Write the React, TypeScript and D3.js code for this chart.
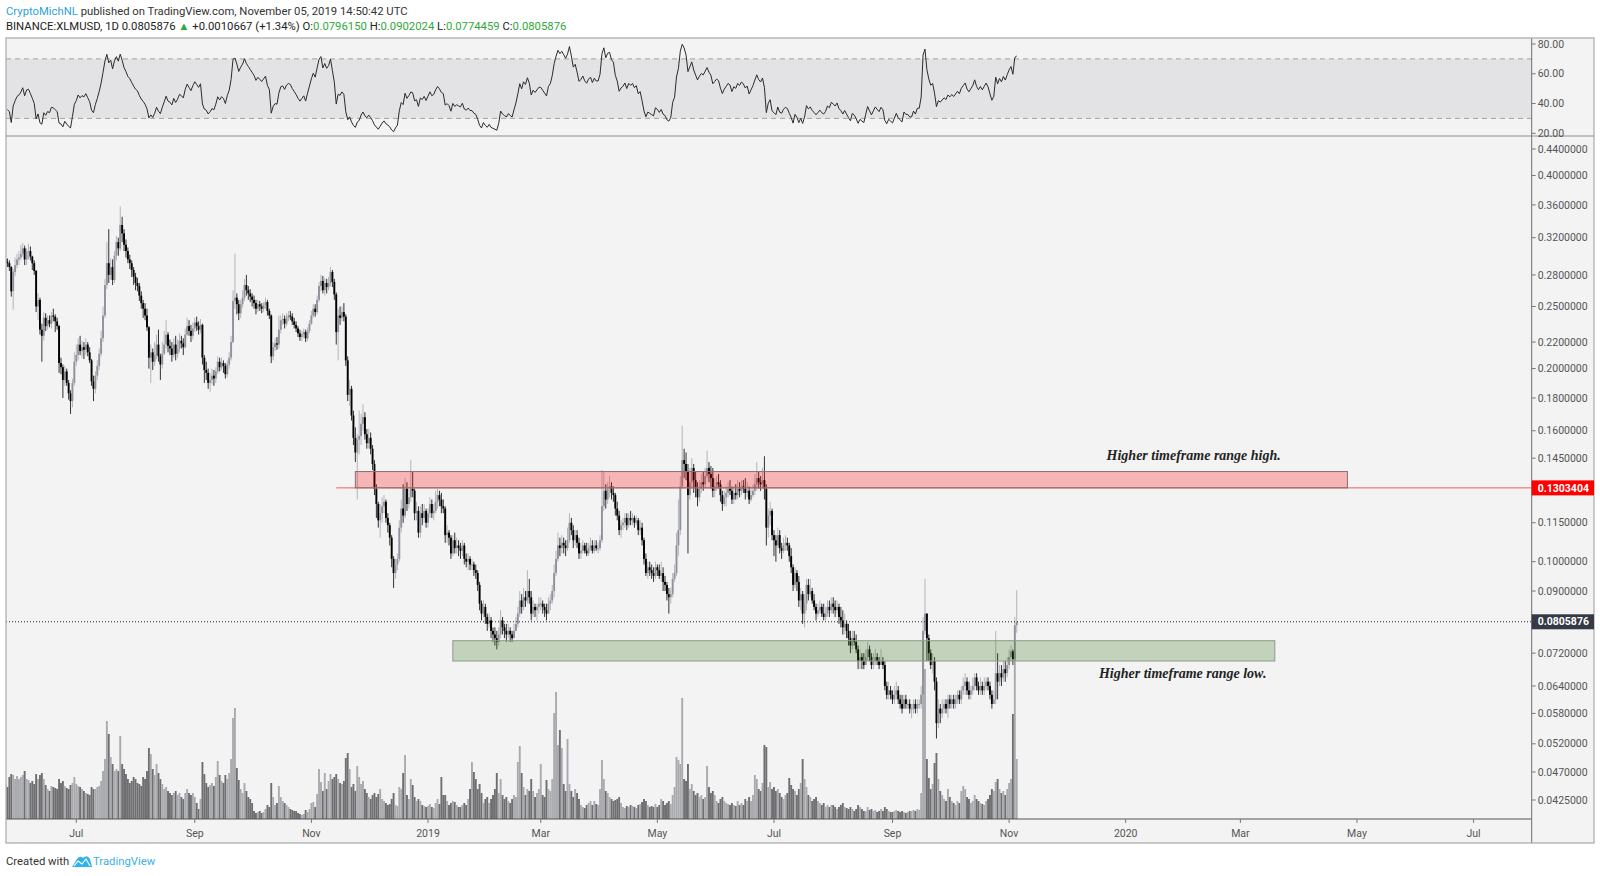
import { useEffect, useRef } from "react";
import * as d3 from "d3";

// rows: [close, high, low, volume] — prices in 1/10000 USD, volume in relative units
const may2018 = [
  [3200, 3300, 3120, 38], [3260, 3300, 3150, 34], [3180, 3290, 3140, 36], [3240, 3280, 3150, 35], [3120, 3250, 3080, 38],
  [3150, 3200, 3060, 34], [3220, 3260, 3120, 33], [3180, 3250, 3150, 30], [3260, 3300, 3160, 34], [3200, 3290, 3170, 32],
  [3080, 3210, 3050, 38], [2900, 3090, 2850, 46], [2960, 3000, 2860, 40], [2930, 3000, 2890, 34], [2920, 2970, 2880, 32],
  [2880, 2950, 2840, 42], [2640, 2890, 2590, 45], [2830, 2860, 2470, 44], [2900, 2980, 2790, 40], [2960, 3020, 2870, 43],
];
const jun2018 = [
  [2980, 3050, 2900, 40], [3020, 3120, 2950, 42], [3080, 3140, 2990, 44], [2960, 3110, 2900, 48], [3040, 3080, 2900, 40],
  [3050, 3130, 2960, 39], [2990, 3100, 2950, 36], [2920, 3000, 2850, 38], [2840, 2950, 2800, 35], [2500, 2850, 2450, 45],
  [2560, 2620, 2380, 40], [2300, 2580, 2260, 44], [2250, 2350, 2050, 46], [2400, 2450, 2210, 40], [2330, 2440, 2290, 34],
  [2380, 2420, 2300, 30], [2350, 2420, 2320, 28], [2420, 2450, 2310, 33], [2410, 2480, 2370, 32], [2370, 2430, 2280, 31],
  [2330, 2400, 2300, 30], [2040, 2340, 1970, 40], [2010, 2080, 1960, 36], [1920, 2030, 1800, 38], [1980, 2020, 1880, 33],
  [1900, 2000, 1880, 31], [1830, 1920, 1790, 30], [1780, 1850, 1700, 34], [1900, 1930, 1740, 36], [2050, 2120, 1880, 42],
];
const jul2018 = [
  [2100, 2180, 2020, 35], [2180, 2230, 2060, 33], [2130, 2250, 2100, 32], [2160, 2210, 2080, 30], [2140, 2200, 2070, 28],
  [2180, 2230, 2100, 26], [2120, 2200, 2090, 25], [2060, 2160, 2040, 24], [1910, 2070, 1880, 32], [1860, 1950, 1780, 30],
  [1950, 1980, 1830, 30], [2020, 2060, 1920, 32], [2110, 2150, 1990, 33], [2230, 2290, 2090, 38], [2420, 2500, 2200, 48],
  [2700, 2760, 2400, 60], [2920, 3150, 2660, 98], [2800, 3300, 2720, 85], [2880, 2970, 2750, 62], [2750, 2960, 2700, 55],
  [3000, 3050, 2720, 48], [3150, 3220, 2950, 50], [3080, 3200, 3000, 48], [3350, 3580, 3050, 83], [3250, 3450, 3150, 55],
  [3120, 3300, 3050, 50], [3050, 3180, 2980, 45], [2960, 3090, 2920, 40], [2920, 3010, 2860, 36], [2850, 2950, 2780, 38],
  [2780, 2880, 2700, 42],
];
const aug2018 = [
  [2720, 2820, 2650, 40], [2690, 2770, 2640, 36], [2600, 2720, 2550, 35], [2530, 2640, 2480, 33], [2480, 2560, 2400, 42],
  [2420, 2530, 2380, 40], [2320, 2480, 2290, 48], [2080, 2330, 2000, 71], [2120, 2180, 1900, 65], [2050, 2150, 1990, 50],
  [2100, 2200, 2020, 44], [2180, 2260, 2070, 55], [2090, 2300, 2050, 46], [2030, 2110, 1920, 40], [2110, 2200, 2000, 35],
  [2180, 2290, 2100, 30], [2260, 2380, 2150, 32], [2170, 2280, 2120, 28], [2150, 2220, 2100, 26], [2100, 2200, 2050, 24],
  [2180, 2230, 2080, 26], [2110, 2250, 2060, 28], [2150, 2220, 2080, 24], [2210, 2270, 2120, 26], [2190, 2250, 2150, 22],
  [2160, 2230, 2100, 20], [2260, 2310, 2150, 26], [2330, 2400, 2250, 30], [2290, 2380, 2250, 26], [2250, 2340, 2200, 24],
  [2310, 2360, 2220, 26],
];
const sep2018 = [
  [2360, 2400, 2280, 22], [2330, 2410, 2290, 16], [2300, 2370, 2260, 10], [2340, 2390, 2270, 20], [2080, 2350, 2030, 57],
  [1990, 2100, 1900, 45], [1970, 2050, 1920, 36], [1900, 2000, 1860, 32], [1920, 1970, 1840, 34], [1950, 2000, 1890, 36],
  [1930, 1990, 1880, 33], [1980, 2010, 1900, 42], [2050, 2090, 1960, 58], [2010, 2080, 1980, 44], [2040, 2080, 1990, 38],
  [2020, 2060, 1970, 36], [1960, 2040, 1930, 44], [2030, 2060, 1940, 40], [2080, 2120, 2000, 46], [2200, 2250, 2060, 60],
  [2550, 2650, 2190, 101], [2580, 3020, 2480, 111], [2520, 2620, 2430, 51], [2440, 2560, 2380, 39], [2520, 2560, 2400, 30],
  [2580, 2650, 2490, 26], [2700, 2760, 2550, 36], [2650, 2800, 2600, 28], [2620, 2690, 2560, 22], [2590, 2660, 2540, 20],
];
const oct2018 = [
  [2560, 2620, 2500, 16], [2530, 2600, 2480, 8], [2480, 2560, 2430, 6], [2520, 2560, 2450, 7], [2500, 2550, 2460, 8],
  [2480, 2530, 2440, 6], [2510, 2540, 2450, 7], [2540, 2580, 2480, 10], [2460, 2560, 2420, 14], [2420, 2480, 2390, 12],
  [2090, 2430, 2040, 36], [2160, 2200, 2060, 22], [2190, 2230, 2130, 14], [2180, 2240, 2140, 16], [2300, 2420, 2150, 33],
  [2380, 2420, 2270, 22], [2390, 2440, 2340, 18], [2350, 2420, 2310, 16], [2400, 2440, 2330, 14], [2420, 2460, 2370, 12],
  [2410, 2460, 2380, 10], [2370, 2440, 2340, 9], [2340, 2400, 2310, 8], [2310, 2370, 2280, 8], [2270, 2330, 2240, 6],
  [2240, 2300, 2210, 5], [2260, 2290, 2210, 4], [2280, 2310, 2230, 5], [2230, 2300, 2200, 9], [2290, 2320, 2210, 7],
  [2350, 2380, 2270, 10],
];
const nov2018 = [
  [2420, 2460, 2340, 16], [2480, 2520, 2400, 17], [2450, 2520, 2410, 12], [2560, 2600, 2430, 25], [2690, 2730, 2540, 50],
  [2740, 2800, 2640, 37], [2650, 2790, 2620, 28], [2720, 2770, 2600, 46], [2680, 2760, 2620, 30], [2720, 2780, 2650, 38],
  [2830, 2880, 2690, 45], [2730, 2850, 2680, 40], [2610, 2760, 2560, 42], [2280, 2630, 2180, 45], [2420, 2480, 2060, 40],
  [2400, 2500, 2340, 36], [2450, 2500, 2370, 35], [2410, 2530, 2370, 38], [2060, 2430, 2020, 61], [1820, 2090, 1780, 66],
  [1860, 1920, 1750, 50], [1690, 1880, 1660, 32], [1560, 1720, 1520, 35], [1480, 1620, 1430, 28], [1550, 1580, 1250, 53],
  [1570, 1720, 1470, 42], [1640, 1700, 1520, 35], [1680, 1760, 1600, 38], [1580, 1710, 1550, 30], [1530, 1610, 1500, 26],
];
const dec2018 = [
  [1560, 1610, 1500, 22], [1500, 1590, 1470, 20], [1420, 1520, 1390, 24], [1300, 1440, 1270, 26], [1230, 1320, 1170, 22],
  [1160, 1240, 1130, 25], [1190, 1230, 1090, 30], [1220, 1260, 1150, 20], [1240, 1270, 1190, 18], [1170, 1250, 1150, 16],
  [1140, 1190, 1110, 14], [1090, 1150, 1060, 15], [1010, 1100, 980, 20], [960, 1020, 910, 26], [990, 1010, 940, 14],
  [1010, 1030, 970, 13], [1130, 1160, 1000, 32], [1210, 1250, 1110, 30], [1180, 1320, 1150, 46], [1300, 1350, 1170, 64],
  [1230, 1330, 1200, 24], [1260, 1300, 1210, 20], [1300, 1440, 1240, 40], [1290, 1380, 1260, 34], [1190, 1300, 1160, 22],
  [1200, 1240, 1160, 18], [1110, 1220, 1090, 20], [1190, 1220, 1090, 18], [1170, 1230, 1140, 14], [1200, 1230, 1150, 13],
  [1150, 1210, 1130, 12],
];
const jan2019 = [
  [1190, 1210, 1130, 13], [1230, 1260, 1170, 15], [1190, 1250, 1170, 12], [1200, 1230, 1160, 11], [1240, 1290, 1190, 16],
  [1270, 1300, 1210, 20], [1250, 1290, 1220, 15], [1220, 1280, 1190, 42], [1210, 1250, 1190, 24], [1100, 1220, 1070, 24],
  [1110, 1140, 1070, 18], [1090, 1120, 1060, 14], [1030, 1100, 1010, 16], [1080, 1100, 1020, 18], [1050, 1110, 1030, 17],
  [1060, 1090, 1030, 14], [1050, 1080, 1020, 12], [1040, 1070, 1010, 12], [1060, 1080, 1020, 14], [1010, 1070, 990, 16],
  [1000, 1030, 980, 14], [1010, 1030, 970, 20], [990, 1020, 970, 30], [990, 1010, 970, 57], [970, 1000, 950, 47],
  [960, 990, 940, 40], [920, 970, 900, 30], [860, 930, 840, 35], [830, 870, 810, 26], [850, 870, 820, 16],
  [820, 860, 800, 20],
];
const feb2019 = [
  [800, 830, 780, 22], [810, 830, 790, 16], [780, 820, 760, 20], [770, 790, 750, 24], [760, 790, 740, 30],
  [750, 780, 730, 46], [770, 790, 740, 26], [810, 840, 760, 40], [790, 820, 770, 24], [780, 800, 760, 20],
  [770, 800, 750, 22], [780, 800, 760, 18], [770, 790, 750, 16], [760, 780, 750, 20], [780, 800, 760, 24],
  [800, 820, 780, 22], [830, 850, 790, 57], [870, 900, 820, 73], [850, 890, 830, 46], [880, 910, 840, 32],
  [870, 900, 850, 24], [900, 970, 860, 30], [880, 940, 860, 28], [830, 900, 810, 40], [850, 870, 820, 28],
  [840, 860, 820, 22], [850, 860, 810, 26], [860, 880, 830, 30],
];
const mar2019 = [
  [860, 880, 840, 55], [850, 870, 830, 24], [840, 860, 820, 22], [830, 860, 810, 39], [860, 880, 830, 30],
  [870, 890, 840, 28], [900, 920, 860, 40], [960, 990, 880, 106], [1010, 1040, 950, 127], [1060, 1110, 1000, 74],
  [1050, 1090, 1020, 89], [1070, 1100, 1030, 71], [1060, 1090, 1030, 35], [1050, 1080, 1020, 28], [1080, 1130, 1040, 80],
  [1150, 1190, 1070, 35], [1120, 1170, 1100, 28], [1080, 1140, 1050, 22], [1100, 1120, 1060, 30], [1070, 1120, 1050, 26],
  [1030, 1090, 1010, 20], [1040, 1070, 1010, 14], [1060, 1080, 1030, 12], [1040, 1070, 1030, 11], [1030, 1070, 1020, 14],
  [1050, 1070, 1020, 16], [1060, 1090, 1040, 18], [1040, 1080, 1030, 14], [1060, 1080, 1030, 18], [1050, 1080, 1040, 15],
  [1050, 1070, 1030, 14],
];
const apr2019 = [
  [1080, 1100, 1040, 30], [1220, 1390, 1070, 59], [1290, 1380, 1200, 40], [1250, 1320, 1210, 28], [1300, 1330, 1230, 26],
  [1310, 1360, 1260, 22], [1280, 1330, 1250, 20], [1270, 1310, 1240, 18], [1210, 1280, 1180, 19], [1180, 1240, 1160, 20],
  [1120, 1200, 1100, 22], [1140, 1160, 1090, 16], [1150, 1170, 1120, 12], [1170, 1190, 1130, 11], [1140, 1190, 1120, 13],
  [1170, 1190, 1130, 12], [1160, 1200, 1140, 14], [1170, 1190, 1140, 13], [1150, 1180, 1130, 12], [1160, 1180, 1140, 11],
  [1120, 1170, 1100, 14], [1130, 1160, 1100, 15], [1080, 1150, 1060, 17], [1010, 1090, 990, 20], [960, 1030, 950, 18],
  [980, 1000, 940, 14], [970, 1000, 950, 12], [960, 990, 940, 13], [950, 980, 930, 12], [980, 1000, 940, 15],
];
const may2019 = [
  [970, 990, 950, 12], [950, 990, 940, 14], [960, 1000, 930, 20], [930, 980, 900, 18], [920, 950, 900, 14],
  [890, 930, 870, 16], [880, 910, 830, 18], [890, 910, 860, 15], [940, 960, 880, 24], [960, 990, 930, 32],
  [1060, 1110, 950, 62], [1120, 1250, 1020, 59], [1310, 1360, 1100, 55], [1440, 1630, 1300, 121], [1420, 1500, 1350, 40],
  [1380, 1480, 1340, 38], [1270, 1420, 1030, 55], [1330, 1400, 1250, 30], [1400, 1450, 1300, 35], [1340, 1420, 1280, 28],
  [1300, 1380, 1260, 24], [1260, 1330, 1220, 26], [1300, 1340, 1240, 22], [1330, 1370, 1280, 24], [1320, 1380, 1290, 20],
  [1360, 1400, 1300, 22], [1400, 1490, 1350, 53], [1370, 1430, 1330, 32], [1350, 1410, 1300, 26], [1290, 1400, 1260, 28],
  [1310, 1350, 1260, 24],
];
const jun2019 = [
  [1330, 1360, 1290, 18], [1320, 1370, 1300, 16], [1270, 1340, 1240, 20], [1230, 1290, 1200, 22], [1260, 1290, 1220, 18],
  [1280, 1310, 1220, 16], [1300, 1330, 1260, 15], [1290, 1340, 1270, 14], [1250, 1310, 1230, 16], [1280, 1310, 1230, 14],
  [1270, 1320, 1250, 13], [1300, 1340, 1250, 18], [1290, 1330, 1260, 14], [1310, 1340, 1270, 16], [1300, 1340, 1280, 14],
  [1280, 1350, 1250, 20], [1290, 1330, 1260, 18], [1250, 1310, 1230, 22], [1270, 1300, 1240, 18], [1290, 1320, 1260, 24],
  [1320, 1370, 1270, 44], [1350, 1430, 1290, 40], [1330, 1380, 1300, 30], [1320, 1360, 1290, 28], [1340, 1400, 1300, 36],
  [1300, 1460, 1250, 74], [1130, 1320, 1060, 72], [1180, 1210, 1090, 32], [1200, 1240, 1140, 37], [1100, 1210, 1080, 30],
];
const jul2019 = [
  [1080, 1120, 1020, 32], [1060, 1100, 1000, 28], [1100, 1130, 1050, 30], [1050, 1120, 1030, 26], [1040, 1070, 1010, 22],
  [1060, 1090, 1030, 20], [1070, 1100, 1040, 24], [1060, 1090, 1040, 26], [1020, 1070, 1000, 41], [980, 1050, 960, 34],
  [920, 990, 900, 30], [960, 980, 910, 28], [930, 970, 900, 24], [870, 950, 850, 30], [890, 910, 840, 36],
  [830, 900, 800, 60], [860, 890, 790, 40], [920, 940, 840, 32], [890, 940, 870, 24], [900, 940, 880, 22],
  [870, 910, 860, 18], [850, 890, 840, 20], [830, 860, 810, 22], [840, 860, 820, 18], [850, 870, 830, 16],
  [830, 860, 820, 14], [820, 860, 810, 16], [830, 850, 810, 12], [850, 870, 820, 14], [840, 870, 820, 12],
  [860, 880, 830, 14],
];
const aug2019 = [
  [850, 880, 830, 14], [840, 870, 820, 12], [850, 870, 830, 10], [820, 860, 800, 12], [810, 850, 790, 14],
  [790, 840, 770, 16], [800, 830, 770, 12], [780, 810, 760, 11], [760, 800, 740, 10], [740, 780, 720, 12],
  [760, 780, 730, 10], [750, 780, 740, 8], [730, 770, 720, 10], [700, 740, 680, 14], [710, 730, 680, 12],
  [700, 720, 680, 10], [690, 720, 680, 8], [710, 730, 690, 8], [730, 750, 700, 12], [710, 740, 700, 9],
  [690, 720, 680, 10], [700, 720, 680, 8], [710, 730, 690, 9], [700, 720, 690, 7], [690, 710, 680, 8],
  [700, 730, 690, 10], [690, 710, 680, 8], [640, 700, 630, 12], [620, 650, 610, 10], [630, 650, 610, 8],
  [620, 640, 610, 7],
];
const sep2019 = [
  [610, 630, 600, 7], [620, 640, 600, 8], [630, 650, 610, 9], [610, 640, 600, 8], [600, 620, 590, 7],
  [590, 620, 580, 8], [610, 620, 590, 7], [600, 620, 590, 6], [600, 610, 590, 7], [590, 610, 580, 8],
  [590, 600, 570, 8], [600, 610, 580, 9], [590, 610, 580, 8], [600, 610, 580, 10], [600, 610, 590, 9],
  [620, 640, 590, 26], [780, 820, 610, 160], [830, 940, 770, 150], [760, 830, 700, 60], [720, 770, 700, 41],
  [690, 730, 680, 30], [700, 720, 670, 35], [650, 710, 630, 56], [560, 660, 530, 66], [590, 610, 550, 40],
  [580, 600, 560, 28], [590, 610, 570, 24], [600, 610, 580, 20], [590, 610, 580, 18], [610, 620, 570, 30],
];
const oct2019 = [
  [600, 620, 590, 22], [610, 620, 590, 18], [600, 620, 590, 16], [610, 620, 590, 14], [620, 630, 600, 18],
  [610, 630, 600, 16], [630, 640, 600, 28], [640, 660, 620, 33], [650, 670, 620, 30], [630, 660, 620, 22],
  [620, 650, 610, 20], [630, 640, 610, 16], [640, 660, 620, 18], [660, 670, 630, 24], [640, 670, 630, 20],
  [630, 650, 620, 18], [640, 660, 620, 16], [630, 650, 620, 15], [640, 660, 620, 14], [650, 660, 630, 18],
  [640, 660, 630, 20], [620, 650, 610, 24], [600, 630, 590, 30], [610, 630, 600, 28], [670, 780, 600, 37],
  [650, 720, 610, 40], [670, 690, 640, 30], [660, 690, 640, 26], [680, 700, 650, 28], [670, 700, 650, 24],
  [690, 710, 660, 30],
];
const nov2019 = [
  [710, 730, 680, 36], [725, 740, 700, 40], [705, 730, 690, 105], [796.15, 820, 700, 168], [805.876, 902.024, 774.459, 60],
];

const months = [
  { start: "2018-05-12", rows: may2018 }, { start: "2018-06-01", rows: jun2018 },
  { start: "2018-07-01", rows: jul2018 }, { start: "2018-08-01", rows: aug2018 },
  { start: "2018-09-01", rows: sep2018 }, { start: "2018-10-01", rows: oct2018 },
  { start: "2018-11-01", rows: nov2018 }, { start: "2018-12-01", rows: dec2018 },
  { start: "2019-01-01", rows: jan2019 }, { start: "2019-02-01", rows: feb2019 },
  { start: "2019-03-01", rows: mar2019 }, { start: "2019-04-01", rows: apr2019 },
  { start: "2019-05-01", rows: may2019 }, { start: "2019-06-01", rows: jun2019 },
  { start: "2019-07-01", rows: jul2019 }, { start: "2019-08-01", rows: aug2019 },
  { start: "2019-09-01", rows: sep2019 }, { start: "2019-10-01", rows: oct2019 },
  { start: "2019-11-01", rows: nov2019 },
];

const priceTicks = [0.44, 0.4, 0.36, 0.32, 0.28, 0.25, 0.22, 0.2, 0.18, 0.16, 0.145, 0.115, 0.1, 0.09, 0.072, 0.064, 0.058, 0.052, 0.047, 0.0425];
const rsiTicks = [80, 60, 40, 20];
const rsiBand = [70, 30];
const timeTicks = [
  "2018-07-01", "2018-09-01", "2018-11-01", "2019-01-01", "2019-03-01", "2019-05-01", "2019-07-01",
  "2019-09-01", "2019-11-01", "2020-01-01", "2020-03-01", "2020-05-01", "2020-07-01",
];

const lastPrice = 0.0805876;
const levelLine = { price: 0.1303404, from: "2018-11-14" };
const rangeHigh = { top: 0.1382, bottom: 0.1303404, from: "2018-11-24", to: "2020-04-26" };
const rangeLow = { top: 0.0753, bottom: 0.07, from: "2019-01-14", to: "2020-03-19" };
const notes = [
  { text: "Higher timeframe range high.", date: "2019-12-22", price: 0.1443 },
  { text: "Higher timeframe range low.", date: "2019-12-18", price: 0.06595 },
];

const DAY = 864e5;
const utc = (s: string) => new Date(s + "T00:00:00Z");

type Bar = { date: Date; open: number; high: number; low: number; close: number; volume: number };

function buildBars(): Bar[] {
  const bars: Bar[] = [];
  let prev: number | null = null;
  months.forEach(({ start, rows }) => {
    const t = utc(start).getTime();
    rows.forEach((r, i) => {
      const close = r[0] / 1e4;
      const open = prev === null ? close : prev;
      bars.push({ date: new Date(t + i * DAY), open, high: r[1] / 1e4, low: r[2] / 1e4, close, volume: r[3] });
      prev = close;
    });
  });
  return bars;
}

// Wilder RSI(14)
function rsi(bars: Bar[], n = 14) {
  const out: { date: Date; value: number }[] = [];
  let g = 0, l = 0;
  for (let i = 1; i < bars.length; i++) {
    const ch = bars[i].close - bars[i - 1].close;
    const up = Math.max(ch, 0), dn = Math.max(-ch, 0);
    if (i <= n) {
      g += up / n;
      l += dn / n;
    } else {
      g = (g * (n - 1) + up) / n;
      l = (l * (n - 1) + dn) / n;
    }
    if (i >= n) out.push({ date: bars[i].date, value: l === 0 ? 100 : 100 - 100 / (1 + g / l) });
  }
  return out;
}

export default function App() {
  const svgRef = useRef<SVGSVGElement>(null);

  useEffect(() => {
    if (!svgRef.current) return;
    const svg = d3.select(svgRef.current);
    svg.selectAll("*").remove();

    const L = 6, PR = 1531.7, R = 1594, T = 38, RB = 136, PB = 819, B = 843;
    const axisFont = "Roboto, 'Liberation Sans', sans-serif";
    const t0 = utc("2019-01-01").getTime();

    const x = d3.scaleUtc()
      .domain([new Date(t0 - 220.76 * DAY), new Date(t0 + 577.4 * DAY)])
      .range([L, PR]);
    const y = d3.scaleLog().domain([0.44, 0.0425]).range([149, 800]);
    const yRsi = d3.scaleLinear().domain([80, 20]).range([44, 133.3]);
    const yVol = d3.scaleLinear().domain([0, 100]).range([PB, PB - 100]);

    const bars = buildBars();
    const rsiData = rsi(bars);

    svg.append("rect").attr("width", 1600).attr("height", 876).attr("fill", "#fff");
    svg.append("rect").attr("x", L).attr("y", T).attr("width", R - L).attr("height", B - T).attr("fill", "#f3f3f3");

    const defs = svg.append("defs");
    defs.append("clipPath").attr("id", "clipPrice")
      .append("rect").attr("x", L).attr("y", RB).attr("width", PR - L).attr("height", PB - RB);
    defs.append("clipPath").attr("id", "clipRsi")
      .append("rect").attr("x", L).attr("y", T).attr("width", PR - L).attr("height", RB - T);

    // header
    const head = svg.append("g").attr("font-family", axisFont).attr("font-size", 11.3);
    const h1 = head.append("text").attr("x", L).attr("y", 15);
    h1.append("tspan").attr("fill", "#2f9fe0").text("CryptoMichNL");
    h1.append("tspan").attr("fill", "#333").text(" published on TradingView.com, November 05, 2019 14:50:42 UTC");
    const h2 = head.append("text").attr("x", L).attr("y", 30).attr("fill", "#222");
    const green = "#2fa83a";
    const parts: [string, string][] = [
      ["BINANCE:XLMUSD, 1D 0.0805876 ", "#222"], ["▲", green], [" +0.0010667 (+1.34%) O:", "#222"], ["0.0796150", green],
      [" H:", "#222"], ["0.0902024", green], [" L:", "#222"], ["0.0774459", green], [" C:", "#222"], ["0.0805876", green],
    ];
    parts.forEach(([s, c]) => h2.append("tspan").attr("fill", c).text(s));

    // RSI pane
    svg.append("rect")
      .attr("x", L).attr("width", PR - L)
      .attr("y", yRsi(rsiBand[0])).attr("height", yRsi(rsiBand[1]) - yRsi(rsiBand[0]))
      .attr("fill", "#e3e3e6");
    rsiBand.forEach((v) => {
      svg.append("line").attr("x1", L).attr("x2", PR).attr("y1", yRsi(v)).attr("y2", yRsi(v))
        .attr("stroke", "#a3a3a3").attr("stroke-dasharray", "5,4");
    });
    svg.append("path")
      .datum(rsiData)
      .attr("clip-path", "url(#clipRsi)")
      .attr("d", d3.line<{ date: Date; value: number }>().x((d) => x(d.date)).y((d) => yRsi(d.value)))
      .attr("fill", "none").attr("stroke", "#2b2b2b").attr("stroke-width", 1);

    // volume
    const price = svg.append("g").attr("clip-path", "url(#clipPrice)");
    price.append("g").selectAll("rect").data(bars).join("rect")
      .attr("x", (d) => x(d.date) - 0.95).attr("width", 1.9)
      .attr("y", (d) => yVol(d.volume)).attr("height", (d) => PB - yVol(d.volume))
      .attr("fill", (d) => (d.close >= d.open ? "#a9aaae" : "#6f6f72"));

    // candles
    const cg = price.append("g");
    cg.selectAll("rect.wick").data(bars).join("rect").attr("class", "wick")
      .attr("x", (d) => x(d.date) - 0.5).attr("width", 1)
      .attr("y", (d) => y(Math.max(d.high, d.open, d.close)))
      .attr("height", (d) => y(Math.min(d.low, d.open, d.close)) - y(Math.max(d.high, d.open, d.close)))
      .attr("fill", (d) => (d.close >= d.open ? "#b3b5bc" : "#333"));
    cg.selectAll("rect.body").data(bars).join("rect").attr("class", "body")
      .attr("x", (d) => x(d.date) - 0.95).attr("width", 1.9)
      .attr("y", (d) => y(Math.max(d.open, d.close)))
      .attr("height", (d) => Math.max(1, y(Math.min(d.open, d.close)) - y(Math.max(d.open, d.close))))
      .attr("fill", (d) => (d.close >= d.open ? "#8f929b" : "#000"));

    // zones and levels
    const zones = svg.append("g").attr("clip-path", "url(#clipPrice)");
    zones.append("line")
      .attr("x1", x(utc(levelLine.from))).attr("x2", PR)
      .attr("y1", y(levelLine.price)).attr("y2", y(levelLine.price))
      .attr("stroke", "#f45b5b").attr("stroke-width", 1);
    [
      { z: rangeHigh, fill: "rgba(255,0,0,0.25)", stroke: "#86706f" },
      { z: rangeLow, fill: "rgba(50,115,20,0.25)", stroke: "#8c9c87" },
    ].forEach(({ z, fill, stroke }) => {
      zones.append("rect")
        .attr("x", x(utc(z.from))).attr("width", x(utc(z.to)) - x(utc(z.from)))
        .attr("y", y(z.top)).attr("height", y(z.bottom) - y(z.top))
        .attr("fill", fill).attr("stroke", stroke).attr("stroke-width", 1);
    });
    zones.append("line")
      .attr("x1", L).attr("x2", PR).attr("y1", y(lastPrice)).attr("y2", y(lastPrice))
      .attr("stroke", "#222").attr("stroke-dasharray", "1,2");

    notes.forEach((n) => {
      svg.append("text")
        .attr("x", x(utc(n.date))).attr("y", y(n.price))
        .attr("font-family", "'Liberation Serif', 'DejaVu Serif', serif")
        .attr("font-style", "italic").attr("font-weight", "bold").attr("font-size", 14)
        .attr("fill", "#222").text(n.text);
    });

    // frame lines
    svg.append("line").attr("x1", L).attr("x2", R).attr("y1", RB).attr("y2", RB).attr("stroke", "#8e8e8e");
    svg.append("line").attr("x1", L).attr("x2", PR).attr("y1", PB).attr("y2", PB).attr("stroke", "#555");
    svg.append("line").attr("x1", PR).attr("x2", PR).attr("y1", T).attr("y2", B).attr("stroke", "#6e6e6e");
    svg.append("rect").attr("x", L).attr("y", T).attr("width", R - L).attr("height", B - T)
      .attr("fill", "none").attr("stroke", "#a9a9a9").attr("stroke-width", 1.2);

    // price axis
    const ax = svg.append("g").attr("font-family", axisFont).attr("font-size", 10.5).attr("fill", "#555");
    priceTicks.forEach((p) => {
      ax.append("line").attr("x1", PR).attr("x2", PR + 4).attr("y1", y(p)).attr("y2", y(p)).attr("stroke", "#777");
      ax.append("text").attr("x", PR + 6).attr("y", y(p)).attr("dy", "0.35em").text(d3.format(".7f")(p));
    });
    rsiTicks.forEach((v) => {
      ax.append("line").attr("x1", PR).attr("x2", PR + 4).attr("y1", yRsi(v)).attr("y2", yRsi(v)).attr("stroke", "#777");
      ax.append("text").attr("x", PR + 6).attr("y", yRsi(v)).attr("dy", "0.35em").text(d3.format(".2f")(v));
    });
    [
      { p: levelLine.price, bg: "#ff0000" },
      { p: lastPrice, bg: "#363a45" },
    ].forEach(({ p, bg }) => {
      svg.append("rect").attr("x", PR).attr("y", y(p) - 7.5).attr("width", R - PR).attr("height", 15).attr("fill", bg);
      svg.append("text").attr("x", PR + 6).attr("y", y(p)).attr("dy", "0.35em")
        .attr("font-family", axisFont).attr("font-size", 10.5).attr("font-weight", "bold")
        .attr("fill", "#fff").text(d3.format(".7f")(p));
    });

    // time axis
    const fmt = (d: Date) => (d.getUTCMonth() === 0 ? d3.utcFormat("%Y")(d) : d3.utcFormat("%b")(d));
    timeTicks.forEach((s) => {
      const d = utc(s);
      ax.append("line").attr("x1", x(d)).attr("x2", x(d)).attr("y1", PB).attr("y2", PB + 4).attr("stroke", "#777");
      ax.append("text").attr("x", x(d)).attr("y", 833).attr("dy", "0.35em").attr("text-anchor", "middle").text(fmt(d));
    });

    // footer
    const foot = svg.append("g").attr("font-family", axisFont).attr("font-size", 11.3);
    foot.append("text").attr("x", L).attr("y", 865).attr("fill", "#333").text("Created with");
    foot.append("path")
      .attr("d", "M72,867 L77,859 Q80,855 83,858 Q87,854 90,859 L92,867 Z")
      .attr("fill", "#2eb4ec");
    foot.append("path")
      .attr("d", "M74,866 L78,861 L82,864 L86,859 L90,866")
      .attr("fill", "none").attr("stroke", "#fff").attr("stroke-width", 1.2);
    foot.append("text").attr("x", 93).attr("y", 865).attr("fill", "#3bb0e6").text("TradingView");
  }, []);

  return (
    <svg
      ref={svgRef}
      width={1600}
      height={876}
      style={{ position: "absolute", left: 0, top: 0, display: "block" }}
    />
  );
}
